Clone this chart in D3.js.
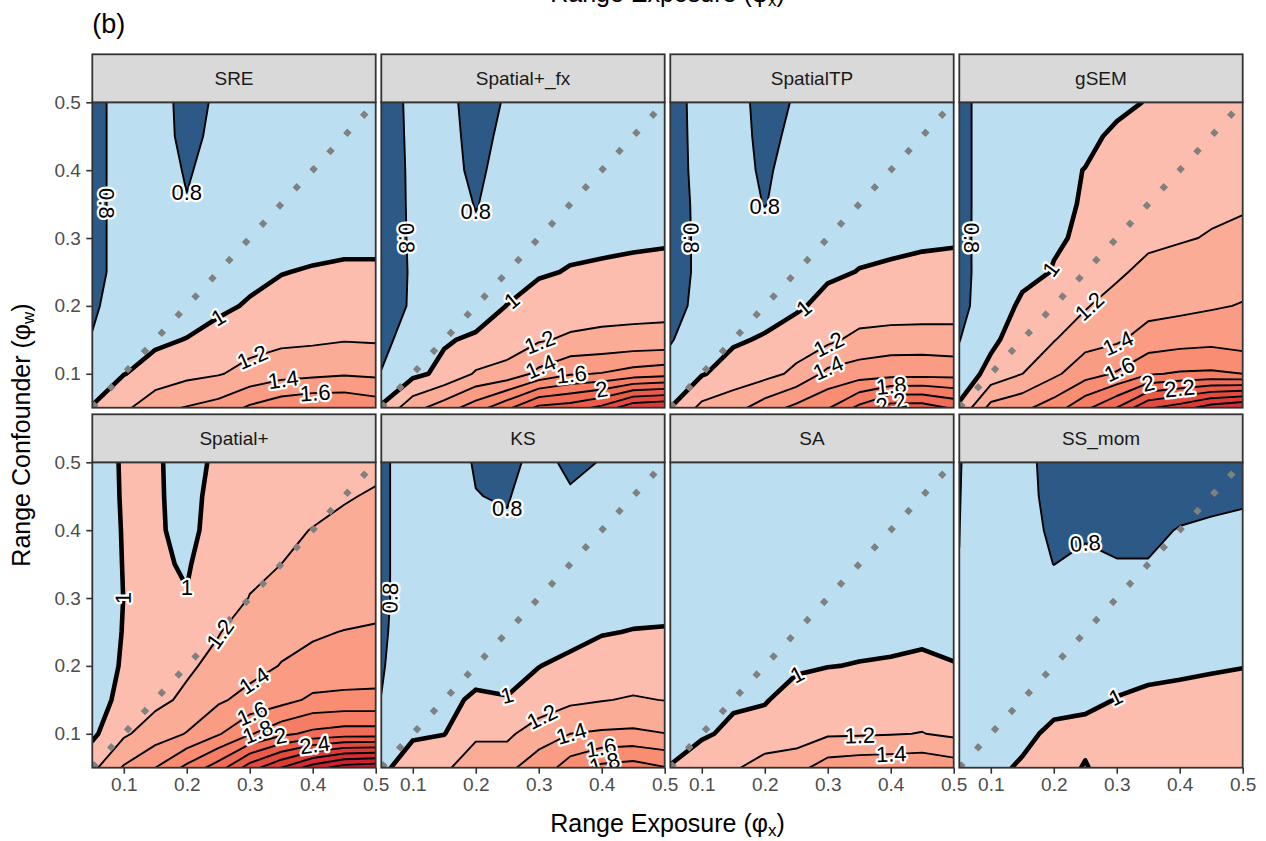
<!DOCTYPE html>
<html>
<head>
<meta charset="utf-8">
<script src="https://cdn.jsdelivr.net/npm/d3@7"></script>
<style>
  body { margin: 0; background: #fff; }
  text { font-family: 'Liberation Sans', Arial, Helvetica, sans-serif; }
</style>
</head>
<body>
<svg id="chart" width="1266" height="841"></svg>
<script>
// grid of ranges the ratio was computed on
var rangeX = [0.05, 0.1, 0.15, 0.2, 0.25, 0.3, 0.35, 0.4, 0.45, 0.5];
var rangeW = [0.05, 0.1, 0.15, 0.2, 0.25, 0.3, 0.35, 0.4, 0.45, 0.5];
var tickVals = [0.1, 0.2, 0.3, 0.4, 0.5];

var panelNames = ['SRE', 'Spatial+_fx', 'SpatialTP', 'gSEM', 'Spatial+', 'KS', 'SA', 'SS_mom'];

var breaks = [0.8, 1, 1.2, 1.4, 1.6, 1.8, 2, 2.2, 2.4, 2.6, 2.8, 3, 3.2];
var bandColors = ['#2c5985', '#bbdef0', '#fcbdae', '#fbac97', '#fa9c83', '#f88d72', '#f57d63',
                  '#f06c56', '#ea5b4a', '#e34b40', '#dc3b38', '#d42d33', '#cc2230', '#c3192d'];

// rows go from phi_w = 0.5 (top) down to 0.05, columns phi_x = 0.05 .. 0.5
var zSRE = [
  [0.75, 0.86, 0.88, 0.74, 0.826, 0.88, 0.89, 0.89, 0.89, 0.89],
  [0.75, 0.86, 0.865, 0.76, 0.837, 0.88, 0.89, 0.89, 0.89, 0.89],
  [0.75, 0.86, 0.853, 0.79, 0.838, 0.88, 0.89, 0.9, 0.9, 0.9],
  [0.75, 0.86, 0.86, 0.805, 0.85, 0.89, 0.9, 0.91, 0.91, 0.91],
  [0.75, 0.86, 0.87, 0.87, 0.89, 0.92, 0.94, 0.95, 0.95, 0.95],
  [0.75, 0.86, 0.87, 0.88, 0.92, 0.96, 0.995, 1.012, 1.03, 1.03],
  [0.78, 0.863, 0.9, 0.93, 0.97, 1.015, 1.05, 1.1, 1.12, 1.12],
  [0.807, 0.92, 0.975, 1.005, 1.058, 1.13, 1.157, 1.169, 1.19, 1.182],
  [0.88, 0.995, 1.06, 1.148, 1.186, 1.26, 1.327, 1.352, 1.38, 1.36],
  [1.01, 1.15, 1.35, 1.41, 1.476, 1.63, 1.735, 1.787, 1.78, 1.717]
];
var zSpatialFx = [
  [0.72, 0.835, 0.863, 0.72, 0.82, 0.88, 0.88, 0.88, 0.89, 0.89],
  [0.72, 0.83, 0.868, 0.74, 0.847, 0.88, 0.89, 0.89, 0.89, 0.9],
  [0.72, 0.825, 0.86, 0.765, 0.868, 0.88, 0.9, 0.9, 0.9, 0.91],
  [0.73, 0.82, 0.857, 0.795, 0.845, 0.89, 0.92, 0.93, 0.93, 0.94],
  [0.74, 0.815, 0.86, 0.817, 0.86, 0.9, 0.96, 0.97, 0.97, 0.98],
  [0.74, 0.812, 0.85, 0.84, 0.9, 0.98, 1.01, 1.02, 1.04, 1.047],
  [0.74, 0.815, 0.86, 0.9, 1.005, 1.08, 1.1, 1.12, 1.13, 1.14],
  [0.77, 0.849, 0.982, 1.03, 1.1, 1.18, 1.23, 1.25, 1.26, 1.265],
  [0.804, 0.95, 1.05, 1.22, 1.27, 1.45, 1.58, 1.61, 1.68, 1.72],
  [1.02, 1.33, 1.5, 1.7, 1.95, 2.25, 2.3, 2.45, 2.75, 2.8]
];
var zSpatialTP = [
  [0.74, 0.855, 0.89, 0.72, 0.82, 0.88, 0.89, 0.89, 0.89, 0.89],
  [0.74, 0.85, 0.8825, 0.745, 0.849, 0.88, 0.89, 0.89, 0.89, 0.9],
  [0.74, 0.845, 0.873, 0.77, 0.881, 0.89, 0.9, 0.9, 0.9, 0.91],
  [0.74, 0.835, 0.86, 0.795, 0.86, 0.9, 0.92, 0.93, 0.93, 0.94],
  [0.74, 0.831, 0.86, 0.857, 0.89, 0.93, 0.96, 0.97, 0.97, 0.98],
  [0.74, 0.831, 0.87, 0.89, 0.93, 0.97, 1.005, 1.018, 1.045, 1.05],
  [0.75, 0.841, 0.9, 0.92, 0.97, 1.06, 1.08, 1.07, 1.085, 1.112],
  [0.79, 0.88, 0.975, 1.02, 1.106, 1.156, 1.26, 1.3, 1.298, 1.275],
  [0.857, 0.985, 1.089, 1.133, 1.242, 1.45, 1.5, 1.52, 1.53, 1.53],
  [1.0, 1.25, 1.32, 1.5, 1.65, 1.78, 2.05, 2.3, 2.3, 2.17]
];
var zGSEM = [
  [0.75, 0.878, 0.88, 0.9, 0.92, 0.96, 1.01, 1.05, 1.08, 1.1],
  [0.75, 0.878, 0.9, 0.93, 0.96, 1.031, 1.06, 1.09, 1.12, 1.15],
  [0.75, 0.878, 0.91, 0.96, 1.004, 1.04, 1.08, 1.11, 1.14, 1.17],
  [0.75, 0.878, 0.91, 0.97, 1.011, 1.05, 1.1, 1.13, 1.16, 1.181],
  [0.75, 0.88, 0.93, 0.98, 1.025, 1.08, 1.13, 1.18, 1.214, 1.24],
  [0.75, 0.878, 0.93, 1.01, 1.1, 1.15, 1.285, 1.3, 1.32, 1.33],
  [0.78, 0.839, 1.048, 1.1, 1.18, 1.31, 1.33, 1.35, 1.38, 1.41],
  [0.795, 0.95, 1.12, 1.19, 1.33, 1.37, 1.485, 1.52, 1.54, 1.5],
  [0.86, 1.072, 1.198, 1.36, 1.52, 1.62, 1.78, 1.82, 1.83, 1.8],
  [1.03, 1.466, 1.55, 1.7, 1.95, 2.2, 2.57, 2.7, 2.9, 3.0]
];
var zSpatialPlus = [
  [0.95, 1.01, 1.03, 0.91, 1.048, 1.1, 1.13, 1.15, 1.16, 1.17],
  [0.95, 1.008, 1.03, 0.923, 1.08, 1.12, 1.15, 1.17, 1.19, 1.213],
  [0.95, 1.005, 1.04, 0.919, 1.12, 1.16, 1.18, 1.203, 1.23, 1.25],
  [0.95, 1.003, 1.04, 0.975, 1.15, 1.17, 1.2, 1.24, 1.27, 1.3],
  [0.95, 1.001, 1.05, 1.012, 1.12, 1.204, 1.25, 1.29, 1.32, 1.34],
  [0.94, 1.0045, 1.06, 1.1, 1.19, 1.29, 1.34, 1.38, 1.405, 1.42],
  [0.93, 1.014, 1.1, 1.17, 1.253, 1.33, 1.408, 1.45, 1.48, 1.5],
  [0.9, 1.064, 1.15, 1.238, 1.37, 1.464, 1.53, 1.638, 1.65, 1.65],
  [0.96, 1.17, 1.3, 1.41, 1.58, 1.78, 1.95, 2.05, 2.1, 2.1],
  [1.15, 1.42, 1.6, 1.85, 2.1, 2.5, 2.8, 3.1, 3.3, 3.35]
];
var zKS = [
  [0.77, 0.877, 0.86, 0.79, 0.75, 0.859, 0.76, 0.808, 0.86, 0.87],
  [0.77, 0.877, 0.86, 0.803, 0.7905, 0.87, 0.8215, 0.86, 0.87, 0.88],
  [0.77, 0.877, 0.87, 0.85, 0.8176, 0.87, 0.88, 0.88, 0.89, 0.9],
  [0.77, 0.877, 0.88, 0.87, 0.87, 0.88, 0.9, 0.91, 0.92, 0.92],
  [0.77, 0.877, 0.89, 0.89, 0.9, 0.91, 0.93, 0.96, 0.97, 0.97],
  [0.78, 0.871, 0.9, 0.92, 0.93, 0.95, 0.97, 0.995, 1.003, 1.006],
  [0.79, 0.873, 0.9, 0.93, 0.95, 0.998, 1.022, 1.04, 1.08, 1.09],
  [0.802, 0.9, 0.95, 1.03, 1.0075, 1.038, 1.159, 1.19, 1.218, 1.195],
  [0.88, 0.96, 0.995, 1.17, 1.15, 1.338, 1.4, 1.426, 1.435, 1.404],
  [0.93, 1.16, 1.17, 1.3, 1.37, 1.47, 1.7, 1.85, 1.89, 1.81]
];
var zSA = [
  [0.86, 0.87, 0.87, 0.88, 0.88, 0.88, 0.89, 0.89, 0.89, 0.89],
  [0.86, 0.87, 0.88, 0.88, 0.89, 0.89, 0.9, 0.9, 0.9, 0.9],
  [0.86, 0.88, 0.88, 0.89, 0.9, 0.9, 0.91, 0.91, 0.92, 0.91],
  [0.87, 0.88, 0.89, 0.9, 0.91, 0.92, 0.93, 0.93, 0.94, 0.93],
  [0.87, 0.89, 0.9, 0.91, 0.93, 0.94, 0.95, 0.96, 0.96, 0.95],
  [0.88, 0.9, 0.91, 0.93, 0.95, 0.96, 0.97, 0.97, 0.975, 0.97],
  [0.9, 0.92, 0.94, 0.95, 0.98, 0.997, 1.0045, 1.011, 1.024, 1.0045],
  [0.93, 0.95, 0.97, 0.99, 1.057, 1.072, 1.1, 1.11, 1.12, 1.12],
  [0.95, 0.97, 1.0455, 1.057, 1.1, 1.174, 1.18, 1.19, 1.205, 1.163],
  [1.005, 1.137, 1.17, 1.3, 1.33, 1.497, 1.53, 1.54, 1.555, 1.5]
];
var zSSmom = [
  [0.795, 0.866, 0.86, 0.73, 0.7, 0.7, 0.7, 0.72, 0.74, 0.75],
  [0.797, 0.87, 0.86, 0.745, 0.72, 0.72, 0.72, 0.75, 0.77, 0.78],
  [0.799, 0.87, 0.86, 0.772, 0.77, 0.77, 0.77, 0.807, 0.82, 0.834],
  [0.801, 0.87, 0.87, 0.798, 0.847, 0.806, 0.806, 0.85, 0.86, 0.87],
  [0.83, 0.87, 0.88, 0.88, 0.89, 0.89, 0.9, 0.9, 0.91, 0.92],
  [0.85, 0.88, 0.89, 0.9, 0.91, 0.92, 0.93, 0.94, 0.95, 0.96],
  [0.86, 0.89, 0.9, 0.92, 0.94, 0.955, 0.96, 0.97, 0.98, 0.995],
  [0.87, 0.9, 0.92, 0.95, 0.96, 1.005, 1.031, 1.043, 1.067, 1.066],
  [0.88, 0.91, 0.96, 1.035, 1.055, 1.08, 1.1, 1.11, 1.12, 1.12],
  [0.9, 0.96, 1.02, 1.1, 0.985, 1.12, 1.15, 1.16, 1.17, 1.17]
];

// contour label anchors: [level, phi_x, phi_w] (snapped onto the line)
var labSRE = [[0.8, 0.073, 0.351], [0.8, 0.2, 0.351], [1, 0.25, 0.184], [1.2, 0.303, 0.128], [1.4, 0.353, 0.093], [1.6, 0.404, 0.069]];
var labSpatialFx = [[0.8, 0.093, 0.3], [0.8, 0.201, 0.327], [1, 0.252, 0.214], [1.2, 0.302, 0.145], [1.4, 0.302, 0.113], [1.6, 0.352, 0.096], [2, 0.4, 0.076]];
var labSpatialTP = [[0.8, 0.081, 0.3], [0.8, 0.199, 0.334], [1, 0.259, 0.201], [1.2, 0.301, 0.145], [1.4, 0.301, 0.108], [1.8, 0.401, 0.079], [2.2, 0.401, 0.056]];
var labGSEM = [[0.8, 0.064, 0.3], [1, 0.199, 0.253], [1.2, 0.26, 0.196], [1.4, 0.302, 0.145], [1.6, 0.302, 0.11], [2, 0.35, 0.086], [2.2, 0.4, 0.079]];
var labSpatialPlus = [[1, 0.098, 0.3], [1, 0.2, 0.29], [1.2, 0.255, 0.246], [1.4, 0.303, 0.184], [1.6, 0.303, 0.133], [1.8, 0.314, 0.1], [2, 0.35, 0.093], [2.4, 0.404, 0.076]];
var labKS = [[0.8, 0.064, 0.3], [0.8, 0.25, 0.4], [1, 0.249, 0.152], [1.2, 0.302, 0.133], [1.4, 0.352, 0.098], [1.6, 0.4, 0.076], [1.8, 0.405, 0.054]];
var labSA = [[1, 0.251, 0.189], [1.2, 0.351, 0.094], [1.4, 0.401, 0.066]];
var labSSmom = [[0.8, 0.25, 0.39], [1, 0.3, 0.152]];

var grids = [zSRE, zSpatialFx, zSpatialTP, zGSEM, zSpatialPlus, zKS, zSA, zSSmom];
var labelSets = [labSRE, labSpatialFx, labSpatialTP, labGSEM, labSpatialPlus, labKS, labSA, labSSmom];

var svg = d3.select('#chart');
var panelW = 283.4, panelH = 305.4, gapX = 5.6, stripH = 48;
var left0 = 92.3, rowTop = [102.3, 462.3];

var x = d3.scaleLinear().domain(d3.extent(rangeX)).range([0, panelW]);
var y = d3.scaleLinear().domain(d3.extent(rangeW)).range([panelH, 0]);

var nx = rangeX.length, ny = rangeW.length;
// padded grid: value index i sits at contour coordinate i + 0.5
var gx = d3.scaleLinear().domain([1.5, nx + 0.5]).range([rangeX[0], rangeX[nx - 1]]);
var gy = d3.scaleLinear().domain([1.5, ny + 0.5]).range([rangeW[0], rangeW[ny - 1]]);
var path = d3.geoPath(d3.geoTransform({
  point: function(px, py) { this.stream.point(x(gx(px)), y(gy(py))); }
}));
var contourGen = d3.contours().size([nx + 2, ny + 2]).thresholds(breaks);

function padValues(z) {
  var vals = [];
  for (var j = 0; j < ny + 2; j++) {
    var yi = Math.max(0, Math.min(ny - 1, j - 1));
    var row = z[ny - 1 - yi];
    for (var i = 0; i < nx + 2; i++) {
      vals.push(row[Math.max(0, Math.min(nx - 1, i - 1))]);
    }
  }
  return vals;
}

function along(b, s) {
  var total = b.cum[b.cum.length - 1];
  s = ((s % total) + total) % total;
  var k = d3.bisectRight(b.cum, s);
  if (k >= b.pts.length) k = b.pts.length - 1;
  if (k < 1) k = 1;
  var a = b.pts[k - 1], c = b.pts[k];
  var seg = (b.cum[k] - b.cum[k - 1]) || 1, t = (s - b.cum[k - 1]) / seg;
  return [a[0] + t * (c[0] - a[0]), a[1] + t * (c[1] - a[1])];
}

function snapLabel(contour, ax, ay) {
  var px = x(ax), py = y(ay), best = null;
  contour.coordinates.forEach(function(poly) {
    poly.forEach(function(ring) {
      var pts = ring.map(function(c) { return [x(gx(c[0])), y(gy(c[1]))]; });
      var cum = [0];
      for (var k = 1; k < pts.length; k++) {
        cum.push(cum[k - 1] + Math.hypot(pts[k][0] - pts[k - 1][0], pts[k][1] - pts[k - 1][1]));
      }
      for (var k = 1; k < pts.length; k++) {
        var a = pts[k - 1], b = pts[k], dx = b[0] - a[0], dy = b[1] - a[1], L2 = dx * dx + dy * dy;
        if (!L2) continue;
        var t = Math.max(0, Math.min(1, ((px - a[0]) * dx + (py - a[1]) * dy) / L2));
        var qx = a[0] + t * dx, qy = a[1] + t * dy;
        if (qx < 0 || qx > panelW || qy < 0 || qy > panelH) continue;
        var d = Math.hypot(px - qx, py - qy);
        if (!best || d < best.d) best = { d: d, pts: pts, cum: cum, s: cum[k - 1] + t * Math.sqrt(L2), x: qx, y: qy };
      }
    });
  });
  if (!best) return null;
  var w = 18;
  var p0 = along(best, best.s - w), pm = [best.x, best.y], p1 = along(best, best.s + w);
  var ang = Math.atan2(p1[1] - p0[1], p1[0] - p0[0]) * 180 / Math.PI;
  // sharp turn (tip of a tongue): keep the label level
  var a1 = Math.atan2(pm[1] - p0[1], pm[0] - p0[0]), a2 = Math.atan2(p1[1] - pm[1], p1[0] - pm[0]);
  var turn = Math.abs(((a2 - a1) * 180 / Math.PI + 540) % 360 - 180);
  if (turn > 70) ang = 0;
  if (ang > 90) ang -= 180;
  if (ang <= -90) ang += 180;
  return { x: best.x, y: best.y, angle: ang };
}

var fmtLevel = function(v) { return String(+v.toFixed(1)); };

panelNames.forEach(function(name, p) {
  var col = p % 4, row = Math.floor(p / 4);
  var g = svg.append('g')
    .attr('transform', 'translate(' + [left0 + col * (panelW + gapX), rowTop[row]] + ')');

  svg.append('clipPath').attr('id', 'clip' + p)
    .append('rect').attr('width', panelW).attr('height', panelH);

  var body = g.append('g').attr('clip-path', 'url(#clip' + p + ')');
  body.append('rect').attr('width', panelW).attr('height', panelH).attr('fill', bandColors[0]);

  var contours = contourGen(padValues(grids[p]));

  body.selectAll('path.band')
    .data(contours)
    .enter().append('path')
    .attr('class', 'band')
    .attr('d', path)
    .attr('fill', function(d, i) { return bandColors[i + 1]; });

  body.selectAll('path.iso')
    .data(contours)
    .enter().append('path')
    .attr('class', 'iso')
    .attr('d', path)
    .attr('fill', 'none')
    .attr('stroke', '#000')
    .attr('stroke-linejoin', 'round')
    .attr('stroke-width', function(d) { return d.value === 1 ? 4.6 : 1.9; });

  // phi_x = phi_w reference line
  var ext = d3.extent(rangeX);
  body.append('line')
    .attr('x1', x(ext[0])).attr('y1', y(ext[0]))
    .attr('x2', x(ext[1])).attr('y2', y(ext[1]))
    .attr('stroke', '#808080')
    .attr('stroke-width', 6)
    .attr('stroke-dasharray', '6 18.8');

  labelSets[p].forEach(function(l) {
    var c = contours[breaks.indexOf(l[0])];
    var pos = snapLabel(c, l[1], l[2]);
    if (!pos) return;
    body.append('text')
      .attr('transform', 'translate(' + [pos.x, pos.y] + ') rotate(' + pos.angle + ')')
      .attr('text-anchor', 'middle')
      .attr('dominant-baseline', 'central')
      .attr('font-size', 22)
      .attr('fill', '#000')
      .attr('stroke', '#fff')
      .attr('stroke-width', 4.5)
      .attr('stroke-linejoin', 'round')
      .attr('paint-order', 'stroke')
      .text(fmtLevel(l[0]));
  });

  g.append('rect')
    .attr('width', panelW).attr('height', panelH)
    .attr('fill', 'none').attr('stroke', '#333').attr('stroke-width', 1.8);

  // facet strip
  g.append('rect')
    .attr('y', -stripH).attr('width', panelW).attr('height', stripH)
    .attr('fill', '#d9d9d9').attr('stroke', '#333').attr('stroke-width', 1.8);
  g.append('text')
    .attr('x', panelW / 2).attr('y', -stripH / 2)
    .attr('text-anchor', 'middle').attr('dominant-baseline', 'central')
    .attr('font-size', 19).attr('fill', '#1a1a1a')
    .text(name);

  if (col === 0) {
    var ay = g.append('g').call(d3.axisLeft(y).tickValues(tickVals).tickSize(6).tickPadding(5.5).tickFormat(d3.format('.1f')));
    ay.select('.domain').remove();
    ay.selectAll('line').attr('stroke', '#333').attr('stroke-width', 1.6);
    ay.selectAll('text').attr('font-size', 19).attr('fill', '#4d4d4d').attr('font-family', null);
  }
  if (row === 1) {
    var axx = g.append('g').attr('transform', 'translate(0,' + panelH + ')')
      .call(d3.axisBottom(x).tickValues(tickVals).tickSize(6).tickPadding(4).tickFormat(d3.format('.1f')));
    axx.select('.domain').remove();
    axx.selectAll('line').attr('stroke', '#333').attr('stroke-width', 1.6);
    axx.selectAll('text').attr('font-size', 19).attr('fill', '#4d4d4d').attr('font-family', null);
  }
});

function axisTitle(sel, sub) {
  sel.append('tspan').text('Range ' + (sub === 'w' ? 'Confounder' : 'Exposure') + ' (\u03c6');
  sel.append('tspan').attr('font-size', 17).attr('dy', 4).text(sub);
  sel.append('tspan').attr('dy', -4).text(')');
}

var midX = left0 + (4 * panelW + 3 * gapX) / 2;
svg.append('text').attr('x', midX).attr('y', 832).attr('text-anchor', 'middle')
  .attr('font-size', 25).attr('fill', '#000').call(axisTitle, 'x');
svg.append('text').attr('x', midX).attr('y', 2).attr('text-anchor', 'middle')
  .attr('font-size', 25).attr('fill', '#000').call(axisTitle, 'x');
svg.append('text')
  .attr('transform', 'translate(30,' + (rowTop[0] + (rowTop[1] + panelH - rowTop[0]) / 2) + ') rotate(-90)')
  .attr('text-anchor', 'middle').attr('font-size', 25).attr('fill', '#000')
  .call(axisTitle, 'w');

svg.append('text').attr('x', left0).attr('y', 33)
  .attr('font-size', 27).attr('fill', '#000').text('(b)');
</script>
</body>
</html>
